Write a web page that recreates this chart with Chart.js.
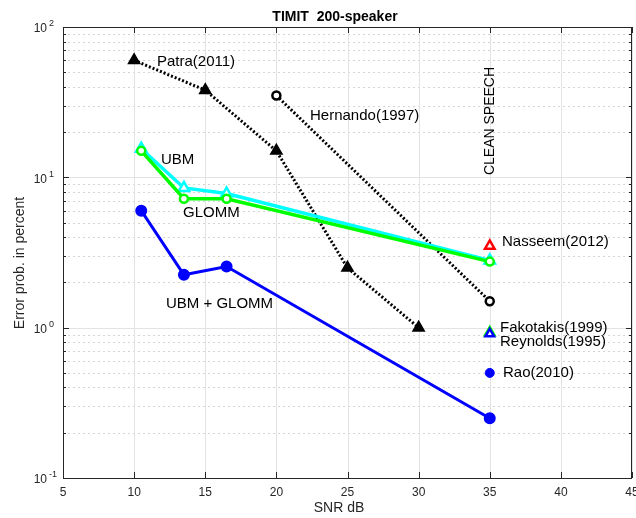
<!DOCTYPE html>
<html>
<head>
<meta charset="utf-8">
<script src="https://cdn.jsdelivr.net/npm/chart.js@4/dist/chart.umd.min.js"></script>
<style>
  html, body { margin: 0; padding: 0; background: #fff; }
  #wrap { width: 636px; height: 518px; }
</style>
</head>
<body>
<div id="wrap"><canvas id="chart" width="636" height="518"></canvas></div>
<script>
const xTicks = [5, 10, 15, 20, 25, 30, 35, 40, 45];
const yDecades = [0.1, 1, 10, 100];

const patraX = [10, 15, 20, 25, 30];
const patraY = [60, 38, 15, 2.5, 1.0];
const hernandoX = [20, 35];
const hernandoY = [35, 1.5];
const snrX = [10.5, 13.5, 16.5, 35];
const ubmY = [15.5, 8.5, 7.8, 2.8];
const glommY = [15, 7.2, 7.2, 2.75];
const ubmGlommY = [6.0, 2.25, 2.55, 0.25];
const nasseem = [35, 3.5];
const fakotakis = [35, 0.93];
const reynolds = [35, 0.91];
const rao = [35, 0.5];

const font = '"Liberation Sans", Arial, sans-serif';

function pts(xs, ys) {
  return xs.map((x, i) => ({ x: x, y: ys[i] }));
}

// grid, inner ticks, box, labels with exponents, title and notes
const matlabAxes = {
  id: 'matlabAxes',
  beforeDatasetsDraw(chart) {
    const { ctx, chartArea: a, scales: { x, y } } = chart;
    ctx.save();
    ctx.lineWidth = 1;
    ctx.strokeStyle = '#d4d4d4';
    ctx.setLineDash([2, 3]);
    for (let d = -1; d < 2; d++) {
      for (let m = 2; m <= 9; m++) {
        const py = Math.round(y.getPixelForValue(m * Math.pow(10, d))) + 0.5;
        ctx.beginPath(); ctx.moveTo(a.left, py); ctx.lineTo(a.right, py); ctx.stroke();
      }
    }
    ctx.setLineDash([]);
    ctx.strokeStyle = '#e3e3e3';
    xTicks.forEach(v => {
      const px = Math.round(x.getPixelForValue(v)) + 0.5;
      ctx.beginPath(); ctx.moveTo(px, a.top); ctx.lineTo(px, a.bottom); ctx.stroke();
    });
    yDecades.forEach(v => {
      const py = Math.round(y.getPixelForValue(v)) + 0.5;
      ctx.beginPath(); ctx.moveTo(a.left, py); ctx.lineTo(a.right, py); ctx.stroke();
    });
    ctx.restore();
  },
  afterDraw(chart) {
    const { ctx, chartArea: a, scales: { x, y } } = chart;
    ctx.save();
    ctx.strokeStyle = '#262626';
    ctx.lineWidth = 1;
    xTicks.forEach(v => {
      const px = Math.round(x.getPixelForValue(v)) + 0.5;
      ctx.beginPath();
      ctx.moveTo(px, a.bottom); ctx.lineTo(px, a.bottom - 6);
      ctx.moveTo(px, a.top); ctx.lineTo(px, a.top + 6);
      ctx.stroke();
    });
    for (let d = -1; d < 2; d++) {
      for (let m = 1; m <= 9; m++) {
        const py = Math.round(y.getPixelForValue(m * Math.pow(10, d))) + 0.5;
        const len = m === 1 ? 6 : 3;
        ctx.beginPath();
        ctx.moveTo(a.left, py); ctx.lineTo(a.left + len, py);
        ctx.moveTo(a.right, py); ctx.lineTo(a.right - len, py);
        ctx.stroke();
      }
    }
    ctx.strokeRect(Math.round(a.left) + 0.5, Math.round(a.top) + 0.5,
      Math.round(a.right - a.left) - 1, Math.round(a.bottom - a.top));

    // tick labels
    ctx.fillStyle = '#262626';
    ctx.textBaseline = 'middle';
    ctx.textAlign = 'center';
    ctx.font = '12px ' + font;
    xTicks.forEach(v => ctx.fillText(String(v), x.getPixelForValue(v), 493));
    yDecades.forEach(v => {
      const py = y.getPixelForValue(v);
      const exp = String(Math.round(Math.log10(v)));
      ctx.textAlign = 'right';
      ctx.font = '12px ' + font;
      ctx.fillText('10', 47, py + 2);
      ctx.textAlign = 'left';
      ctx.font = '9px ' + font;
      ctx.fillText(exp, 49, py - 3);
    });

    // axis titles
    ctx.font = '14px ' + font;
    ctx.textAlign = 'center';
    ctx.fillText('SNR dB', 339, 508);
    ctx.save();
    ctx.translate(20, 263);
    ctx.rotate(-Math.PI / 2);
    ctx.fillText('Error prob. in percent', 0, 0);
    ctx.restore();

    // title
    ctx.font = 'bold 14px ' + font;
    ctx.fillStyle = '#000';
    ctx.fillText('TIMIT  200-speaker', 335, 17);

    // notes
    ctx.font = '15px ' + font;
    ctx.textAlign = 'left';
    const notes = [
      ['Patra(2011)', 157, 62],
      ['Hernando(1997)', 310, 116],
      ['UBM', 161, 160],
      ['GLOMM', 183, 213],
      ['UBM + GLOMM', 166, 304],
      ['Nasseem(2012)', 502, 242],
      ['Fakotakis(1999)', 500, 328],
      ['Reynolds(1995)', 500, 342],
      ['Rao(2010)', 503, 373]
    ];
    notes.forEach(n => ctx.fillText(n[0], n[1], n[2]));
    ctx.font = '14px ' + font;
    ctx.translate(490, 121);
    ctx.rotate(-Math.PI / 2);
    ctx.textAlign = 'center';
    ctx.fillText('CLEAN SPEECH', 0, 0);
    ctx.restore();
  }
};

new Chart(document.getElementById('chart'), {
  type: 'scatter',
  data: {
    datasets: [
      {
        label: 'Rao(2010)', data: [{ x: rao[0], y: rao[1] }], order: 1,
        pointStyle: 'circle', pointRadius: 4.5, backgroundColor: '#0000ff', borderColor: '#0000ff'
      },
      {
        label: 'Reynolds(1995)', data: [{ x: reynolds[0], y: reynolds[1] }], order: 1,
        pointStyle: 'triangle', pointRadius: 5, backgroundColor: '#fff', borderColor: '#0000ff', borderWidth: 2.5
      },
      {
        label: 'Fakotakis(1999)', data: [{ x: fakotakis[0], y: fakotakis[1] }], order: 2,
        pointStyle: 'triangle', pointRadius: 6, backgroundColor: '#fff', borderColor: '#00ff00', borderWidth: 2
      },
      {
        label: 'Nasseem(2012)', data: [{ x: nasseem[0], y: nasseem[1] }], order: 1,
        pointStyle: 'triangle', pointRadius: 5.5, backgroundColor: '#fff', borderColor: '#ff0000', borderWidth: 2.5
      },
      {
        label: 'UBM + GLOMM', data: pts(snrX, ubmGlommY), showLine: true, order: 3,
        borderColor: '#0000ff', borderWidth: 3, pointStyle: 'circle', pointRadius: 4.5,
        backgroundColor: '#0000ff', pointBorderColor: '#0000ff'
      },
      {
        label: 'GLOMM', data: pts(snrX, glommY), showLine: true, order: 4,
        borderColor: '#00ff00', borderWidth: 3.5, pointStyle: 'circle', pointRadius: 4,
        backgroundColor: '#fff', pointBorderColor: '#00ff00', pointBorderWidth: 2.5
      },
      {
        label: 'UBM', data: pts(snrX, ubmY), showLine: true, order: 5,
        borderColor: '#00ffff', borderWidth: 3.5, pointStyle: 'triangle', pointRadius: 6,
        backgroundColor: '#fff', pointBorderColor: '#00ffff', pointBorderWidth: 2.5
      },
      {
        label: 'Hernando(1997)', data: pts(hernandoX, hernandoY), showLine: true, order: 6,
        borderColor: '#000', borderWidth: 3, borderDash: [2, 2], pointStyle: 'circle', pointRadius: 4,
        backgroundColor: '#fff', pointBorderColor: '#000', pointBorderWidth: 2.5
      },
      {
        label: 'Patra(2011)', data: pts(patraX, patraY), showLine: true, order: 6,
        borderColor: '#000', borderWidth: 3, borderDash: [2, 2], pointStyle: 'triangle', pointRadius: 6.5,
        backgroundColor: '#000', pointBorderColor: '#000', pointBorderWidth: 1.5
      }
    ]
  },
  options: {
    responsive: false,
    animation: false,
    layout: { autoPadding: false, padding: { top: 27, right: 4, left: 0, bottom: 0 } },
    plugins: { legend: { display: false }, tooltip: { enabled: false } },
    elements: { line: { tension: 0 } },
    scales: {
      x: {
        type: 'linear', min: 5, max: 45,
        afterBuildTicks: s => { s.ticks = xTicks.map(v => ({ value: v })); },
        afterFit: s => { s.height = 40; },
        grid: { display: false },
        border: { display: false },
        ticks: { display: false }
      },
      y: {
        type: 'logarithmic', min: 0.1, max: 100,
        afterFit: s => { s.width = 63; },
        grid: { display: false },
        border: { display: false },
        ticks: { display: false }
      }
    }
  },
  plugins: [matlabAxes]
});
</script>
</body>
</html>
